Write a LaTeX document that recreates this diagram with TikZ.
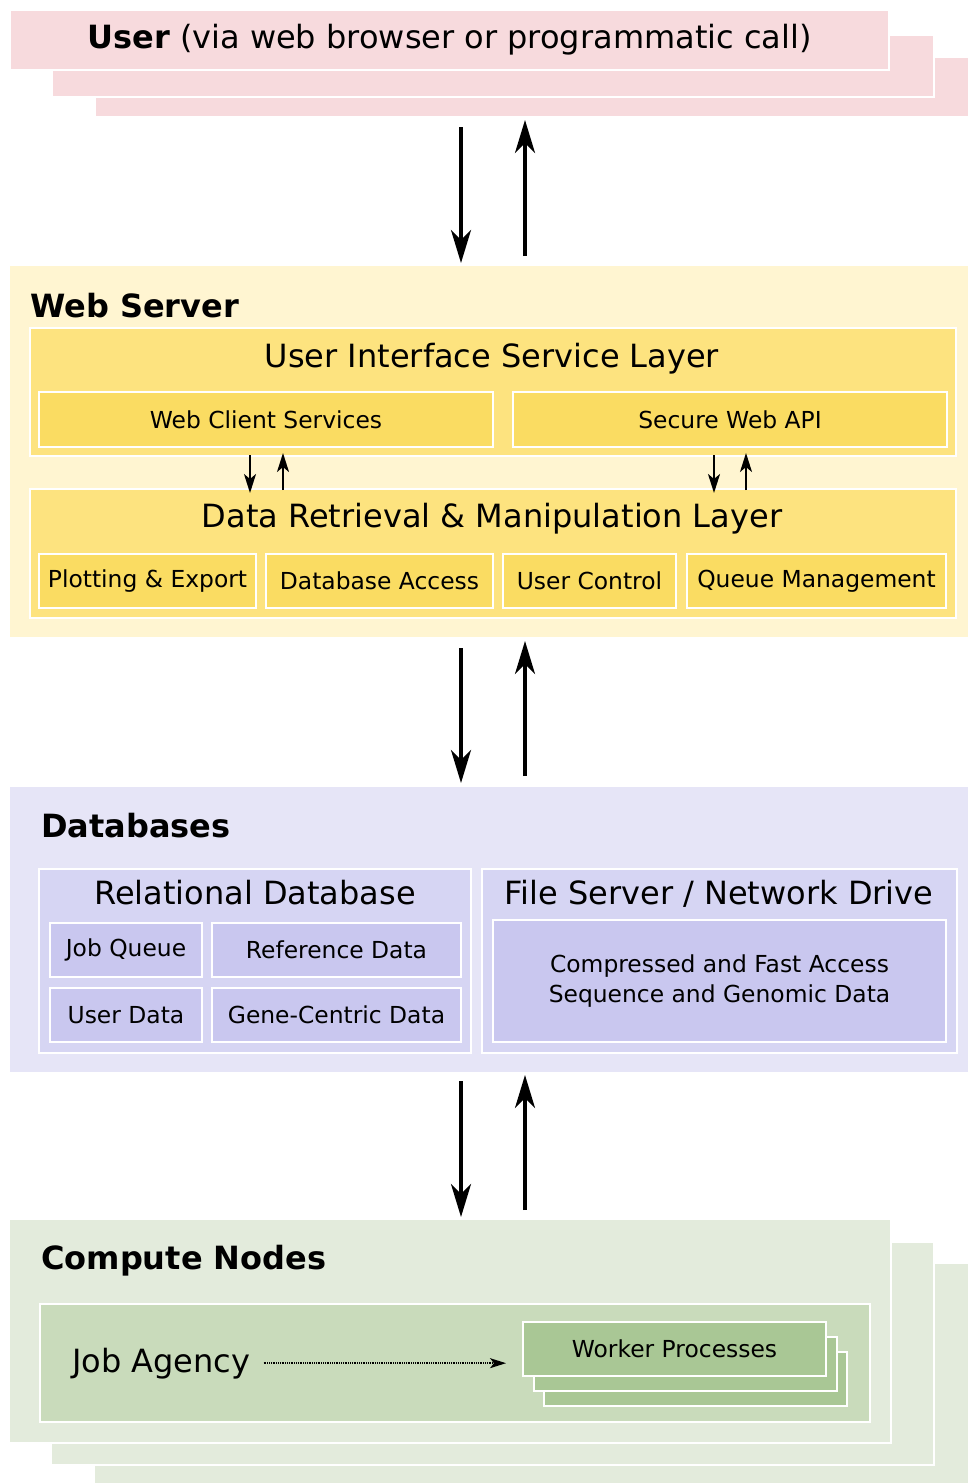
\documentclass[tikz,border=0pt]{standalone}
\usepackage{fontspec}
\setmainfont{DejaVu Sans}
\usetikzlibrary{arrows.meta,fit}

\definecolor{userpink}{HTML}{F7DADD}
\definecolor{webcream}{HTML}{FFF5D1}
\definecolor{weblayer}{HTML}{FDE37F}
\definecolor{webitem}{HTML}{FADC62}
\definecolor{dbpanel}{HTML}{E6E5F7}
\definecolor{dbgroup}{HTML}{D6D5F3}
\definecolor{dbitem}{HTML}{C9C7EF}
\definecolor{cnpanel}{HTML}{E3EBDC}
\definecolor{cngroup}{HTML}{C9DBBB}
\definecolor{cnitem}{HTML}{A9C795}

\tikzset{
  box/.style={rectangle, draw=white, line width=2.5pt, inner sep=0pt, outer sep=0pt},
  titletext/.style={font=\fontsize{32}{38}\selectfont, inner sep=0pt},
  itemtext/.style={font=\fontsize{23.4}{30}\selectfont, inner sep=0pt},
  headtext/.style={font=\fontsize{32}{38}\selectfont\bfseries, anchor=base west, inner sep=0pt},
  flow/.style={line width=3.5pt, -{Stealth[length=33pt,width=20pt,inset=10pt]}},
  minorflow/.style={line width=2.2pt, -{Stealth[length=19pt,width=12pt,inset=5pt]}},
  dispatch/.style={line width=1.4pt, dash pattern=on 1pt off 0.8pt, -{Stealth[length=16pt,width=10pt,inset=4pt]}},
}

\begin{document}
\begin{tikzpicture}[x=1pt,y=-1pt]
\useasboundingbox (0,0) rectangle (968,1483);

% ---------- User ----------
\node[box, fill=userpink, fit={(95,57) (975,117)}] (user3) {};
\node[box, fill=userpink, fit={(52,35) (934,97)}] (user2) {};
\node[box, fill=userpink, fit={(10,10) (889,70)}] (user1) {};
\node[titletext] (usertext) at (user1.center) {\textbf{User} (via web browser or programmatic call)};

% ---------- Web server ----------
\node[box, fill=webcream, fit={(9,265) (975,638)}] (ws) {};
\node[headtext] (wstitle) at (30,317) {Web Server};

\node[box, fill=weblayer, fit={(30,328) (956,456)}] (uil) {};
\node[titletext, anchor=base] (uiltitle) at (492,367) {User Interface Service Layer};
\node[box, fill=webitem, fit={(39,392) (493,447)}] (wcs) {};
\node[itemtext] at (wcs.center) {Web Client Services};
\node[box, fill=webitem, fit={(513,392) (947,447)}] (api) {};
\node[itemtext] at (api.center) {Secure Web API};

\node[box, fill=weblayer, fit={(30,489) (956,618)}] (drl) {};
\node[titletext, anchor=base] (drltitle) at (492,527) {Data Retrieval \& Manipulation Layer};
\node[box, fill=webitem, fit={(39,554) (256,608)}] (plot) {};
\node[itemtext] at (plot.center) {Plotting \& Export};
\node[box, fill=webitem, fit={(266,554) (493,608)}] (dba) {};
\node[itemtext] at (dba.center) {Database Access};
\node[box, fill=webitem, fit={(503,554) (676,608)}] (uc) {};
\node[itemtext] at (uc.center) {User Control};
\node[box, fill=webitem, fit={(687,554) (946,608)}] (qm) {};
\node[itemtext] at (qm.center) {Queue Management};

% ---------- Databases ----------
\node[box, fill=dbpanel, fit={(9,786) (975,1073)}] (db) {};
\node[headtext] (dbtitle) at (41,837) {Databases};

\node[box, fill=dbgroup, fit={(39,869) (471,1053)}] (rdb) {};
\node[titletext, anchor=base] (rdbtitle) at (255,904) {Relational Database};
\node[box, fill=dbitem, fit={(50,923) (202,977)}] (jq) {};
\node[itemtext] at (jq.center) {Job Queue};
\node[box, fill=dbitem, fit={(212,923) (461,977)}] (ref) {};
\node[itemtext] at (ref.center) {Reference Data};
\node[box, fill=dbitem, fit={(50,988) (202,1042)}] (ud) {};
\node[itemtext] at (ud.center) {User Data};
\node[box, fill=dbitem, fit={(212,988) (461,1042)}] (gc) {};
\node[itemtext] at (gc.center) {Gene-Centric Data};

\node[box, fill=dbgroup, fit={(482,869) (957,1053)}] (fs) {};
\node[titletext, anchor=base] (fstitle) at (719,904) {File Server / Network Drive};
\node[box, fill=dbitem, fit={(493,920) (946,1042)}] (seq) {};
\node[itemtext, align=center] at (seq.center)
  {Compressed and Fast Access\\Sequence and Genomic Data};

% ---------- Compute nodes ----------
\node[box, fill=cnpanel, fit={(94,1263) (975,1490)}] (cn3) {};
\node[box, fill=cnpanel, fit={(51,1242) (934,1465)}] (cn2) {};
\node[box, fill=cnpanel, fit={(9,1219) (891,1443)}] (cn1) {};
\node[headtext] (cntitle) at (41,1269) {Compute Nodes};

\node[box, fill=cngroup, fit={(40,1304) (870,1422)}] (jagroup) {};
\node[titletext, anchor=base west] (ja) at (72,1372) {Job Agency};

\node[box, fill=cnitem, fit={(544,1352) (847,1406)}] (wp3) {};
\node[box, fill=cnitem, fit={(534,1337) (837,1391)}] (wp2) {};
\node[box, fill=cnitem, fit={(523,1322) (826,1376)}] (wp1) {};
\node[itemtext] at (wp1.center) {Worker Processes};

\draw[dispatch, shorten <=13pt, shorten >=17pt] (ja.east) -- (ja.east -| wp1.west);

% ---------- Flows between tiers ----------
\coordinate (dn) at (461,0);
\coordinate (upx) at (525,0);

\draw[flow, shorten <=10pt, shorten >=2pt] (user3.south -| dn) -- (ws.north -| dn);
\draw[flow, shorten <=9pt, shorten >=3pt] (ws.north -| upx) -- (user3.south -| upx);

\draw[flow, shorten <=10pt, shorten >=3pt] (ws.south -| dn) -- (db.north -| dn);
\draw[flow, shorten <=10pt, shorten >=3pt] (db.north -| upx) -- (ws.south -| upx);

\draw[flow, shorten <=8pt, shorten >=2pt] (db.south -| dn) -- (cn1.north -| dn);
\draw[flow, shorten <=9pt, shorten >=2pt] (cn1.north -| upx) -- (db.south -| upx);

% ---------- Flows between web server layers ----------
\coordinate (ldn) at (250,0);
\coordinate (lup) at (283,0);
\coordinate (rdn) at (714,0);
\coordinate (rup) at (746,0);

\draw[minorflow, shorten <=-1pt, shorten >=-4pt] (uil.south -| ldn) -- (drl.north -| ldn);
\draw[minorflow, shorten <=-1pt, shorten >=-3pt] (drl.north -| lup) -- (uil.south -| lup);
\draw[minorflow, shorten <=-1pt, shorten >=-4pt] (uil.south -| rdn) -- (drl.north -| rdn);
\draw[minorflow, shorten <=-1pt, shorten >=-3pt] (drl.north -| rup) -- (uil.south -| rup);
\end{tikzpicture}
\end{document}
